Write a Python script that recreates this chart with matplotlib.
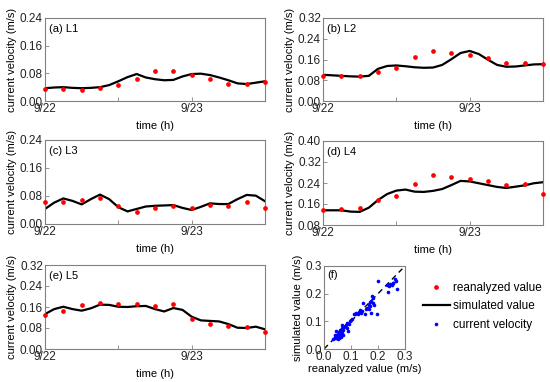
import numpy as np
import matplotlib.pyplot as plt

plt.rcParams['font.family'] = ['Liberation Sans', 'DejaVu Sans']

## Reanalyzed values, every 3 h from 9/22 00:00
t_obs = [0, 3, 6, 9, 12, 15, 18, 21, 24, 27, 30, 33, 36]
obs_L1 = [0.035, 0.035, 0.031, 0.038, 0.045, 0.065, 0.086, 0.086, 0.075, 0.065, 0.048, 0.048, 0.055]
obs_L2 = [0.095, 0.098, 0.095, 0.113, 0.128, 0.168, 0.193, 0.186, 0.177, 0.165, 0.147, 0.146, 0.143]
obs_L3 = [0.064, 0.063, 0.069, 0.075, 0.052, 0.035, 0.047, 0.050, 0.047, 0.054, 0.052, 0.063, 0.046]
obs_L4 = [0.136, 0.142, 0.145, 0.175, 0.190, 0.237, 0.270, 0.262, 0.257, 0.247, 0.234, 0.237, 0.198]
obs_L5 = [0.130, 0.143, 0.166, 0.174, 0.172, 0.171, 0.163, 0.172, 0.116, 0.097, 0.089, 0.084, 0.064]

## Simulated values, every 1.5 h
t_sim = [0, 1.5, 3, 4.5, 6, 7.5, 9, 10.5, 12, 13.5, 15, 16.5, 18, 19.5, 21, 22.5,
         24, 25.5, 27, 28.5, 30, 31.5, 33, 34.5, 36]
sim_L1 = [0.037, 0.039, 0.040, 0.038, 0.037, 0.038, 0.040, 0.046, 0.057, 0.069, 0.078, 0.068,
          0.063, 0.060, 0.061, 0.071, 0.078, 0.079, 0.075, 0.068, 0.060, 0.051, 0.049, 0.053, 0.057]
sim_L2 = [0.101, 0.099, 0.097, 0.095, 0.094, 0.097, 0.124, 0.135, 0.137, 0.134, 0.130, 0.128,
          0.129, 0.139, 0.161, 0.185, 0.193, 0.181, 0.159, 0.139, 0.132, 0.133, 0.137, 0.141, 0.142]
sim_L3 = [0.043, 0.061, 0.073, 0.066, 0.056, 0.071, 0.084, 0.071, 0.048, 0.036, 0.043, 0.050,
          0.052, 0.053, 0.054, 0.046, 0.040, 0.049, 0.059, 0.057, 0.057, 0.071, 0.083, 0.081, 0.065]
sim_L4 = [0.136, 0.136, 0.136, 0.131, 0.130, 0.146, 0.175, 0.198, 0.211, 0.215, 0.207, 0.206,
          0.210, 0.217, 0.232, 0.248, 0.246, 0.239, 0.232, 0.225, 0.221, 0.226, 0.231, 0.239, 0.243]
sim_L5 = [0.133, 0.152, 0.161, 0.152, 0.146, 0.155, 0.169, 0.168, 0.161, 0.160, 0.163, 0.164,
          0.152, 0.143, 0.156, 0.149, 0.123, 0.109, 0.107, 0.105, 0.095, 0.081, 0.080, 0.085, 0.075]

## Scatter (f): reanalyzed vs simulated
sc_rea = [0.035, 0.040, 0.042, 0.045, 0.048, 0.050, 0.052, 0.055, 0.058, 0.060, 0.062, 0.065,
          0.068, 0.070, 0.072, 0.075, 0.078, 0.080, 0.085, 0.090, 0.092, 0.095, 0.100, 0.105,
          0.040, 0.050, 0.055, 0.062, 0.070, 0.045, 0.058, 0.065, 0.085,
          0.110, 0.115, 0.120, 0.125, 0.130, 0.135, 0.140, 0.138, 0.145, 0.150, 0.155, 0.160,
          0.165, 0.168, 0.170, 0.172, 0.175, 0.178, 0.180, 0.182, 0.185, 0.175, 0.195, 0.200,
          0.237, 0.241, 0.250, 0.257, 0.266, 0.269, 0.262, 0.245, 0.255, 0.235]
sc_sim = [0.035, 0.040, 0.045, 0.038, 0.050, 0.055, 0.045, 0.060, 0.052, 0.065, 0.070, 0.058,
          0.075, 0.080, 0.068, 0.078, 0.082, 0.085, 0.075, 0.065, 0.090, 0.100, 0.105, 0.110,
          0.050, 0.035, 0.040, 0.042, 0.050, 0.065, 0.070, 0.085, 0.095,
          0.125, 0.128, 0.130, 0.128, 0.135, 0.140, 0.138, 0.130, 0.165, 0.125, 0.145, 0.150,
          0.160, 0.145, 0.170, 0.155, 0.175, 0.190, 0.165, 0.185, 0.160, 0.130, 0.128, 0.246,
          0.207, 0.228, 0.232, 0.237, 0.244, 0.216, 0.252, 0.235, 0.240, 0.230]

panels = [('(a) L1', obs_L1, sim_L1, (0, 0.24), [0, 0.08, 0.16, 0.24]),
          ('(b) L2', obs_L2, sim_L2, (0, 0.32), [0, 0.08, 0.16, 0.24, 0.32]),
          ('(c) L3', obs_L3, sim_L3, (0, 0.24), [0, 0.08, 0.16, 0.24]),
          ('(d) L4', obs_L4, sim_L4, (0.08, 0.40), [0.08, 0.16, 0.24, 0.32, 0.40]),
          ('(e) L5', obs_L5, sim_L5, (0, 0.32), [0, 0.08, 0.16, 0.24, 0.32])]

W, H = 550, 382
# axes boxes in pixels: left, top, right, bottom
boxes = [(45, 18, 265, 101), (323, 18, 543, 101),
         (45, 140, 265, 224), (323, 141, 543, 225),
         (45, 265, 265, 349)]

frame = '#808080'
fs = 7.5

def px_axes(fig, box):
    l, t, r, b = box
    return fig.add_axes([l / W, 1 - b / H, (r - l) / W, (b - t) / H])

def style(ax):
    for s in ax.spines.values():
        s.set_color(frame)
        s.set_linewidth(0.8)
    ax.tick_params(direction='in', length=3, width=0.6, color=frame,
                   labelsize=fs + 1, pad=1.5, labelcolor='#222222')

fig = plt.figure(figsize=(5.5, 3.82), dpi=100)

for (lab, obs, sim, ylim, yt), box in zip(panels, boxes):
    ax = px_axes(fig, box)
    ax.plot(t_sim, sim, '-', color='black', lw=1.6, zorder=2)
    ax.plot(t_obs, obs, 'o', color='red', ms=3.4, mec='none', zorder=3, clip_on=False)
    ax.set_xlim(0, 36)
    ax.set_ylim(*ylim)
    ax.set_yticks(yt)
    ax.set_yticklabels([f'{v:.2f}' for v in yt])
    ax.set_xticks([0, 12, 24, 36])
    ax.set_xticklabels(['9/22', '', '9/23', ''])
    style(ax)
    ax.set_xlabel('time (h)', fontsize=fs + 0.5, labelpad=4)
    ax.set_ylabel('current velocity (m/s)', fontsize=fs + 0.5, labelpad=2)
    ax.text(0.02, 0.93, lab, transform=ax.transAxes, fontsize=fs + 0.5, va='top')

## panel (f)
axf = px_axes(fig, (324, 266, 405, 349))
axf.plot([0, 0.29], [0, 0.29], '--', color='black', lw=1.0, dashes=(4, 3))
axf.plot(sc_rea, sc_sim, 'o', color='blue', ms=2.6, mec='none')
axf.set_xlim(0, 0.3)
axf.set_ylim(0, 0.3)
axf.set_xticks([0, 0.1, 0.2, 0.3])
axf.set_yticks([0, 0.1, 0.2, 0.3])
axf.set_xticklabels(['0.0', '0.1', '0.2', '0.3'])
axf.set_yticklabels(['0.0', '0.1', '0.2', '0.3'])
style(axf)
axf.set_xlabel('reanalyzed value (m/s)', fontsize=fs + 0.5, labelpad=1)
axf.set_ylabel('simulated value (m/s)', fontsize=fs + 0.5, labelpad=2)
axf.text(0.04, 0.95, '(f)', transform=axf.transAxes, fontsize=fs + 0.5, va='top')

## legend
h1, = axf.plot([], [], 'o', color='red', ms=3.4, mec='none')
h2, = axf.plot([], [], '-', color='black', lw=1.6)
h3, = axf.plot([], [], 'o', color='blue', ms=2.6, mec='none')
fig.legend([h1, h2, h3], ['reanalyzed value', 'simulated value', 'current velocity'],
           loc='upper left', bbox_to_anchor=(418 / W, 1 - 277 / H), frameon=False,
           fontsize=fs + 1, handlelength=2.3, handletextpad=0.3, labelspacing=0.55,
           borderaxespad=0)

fig.savefig('out.png', dpi=100)
